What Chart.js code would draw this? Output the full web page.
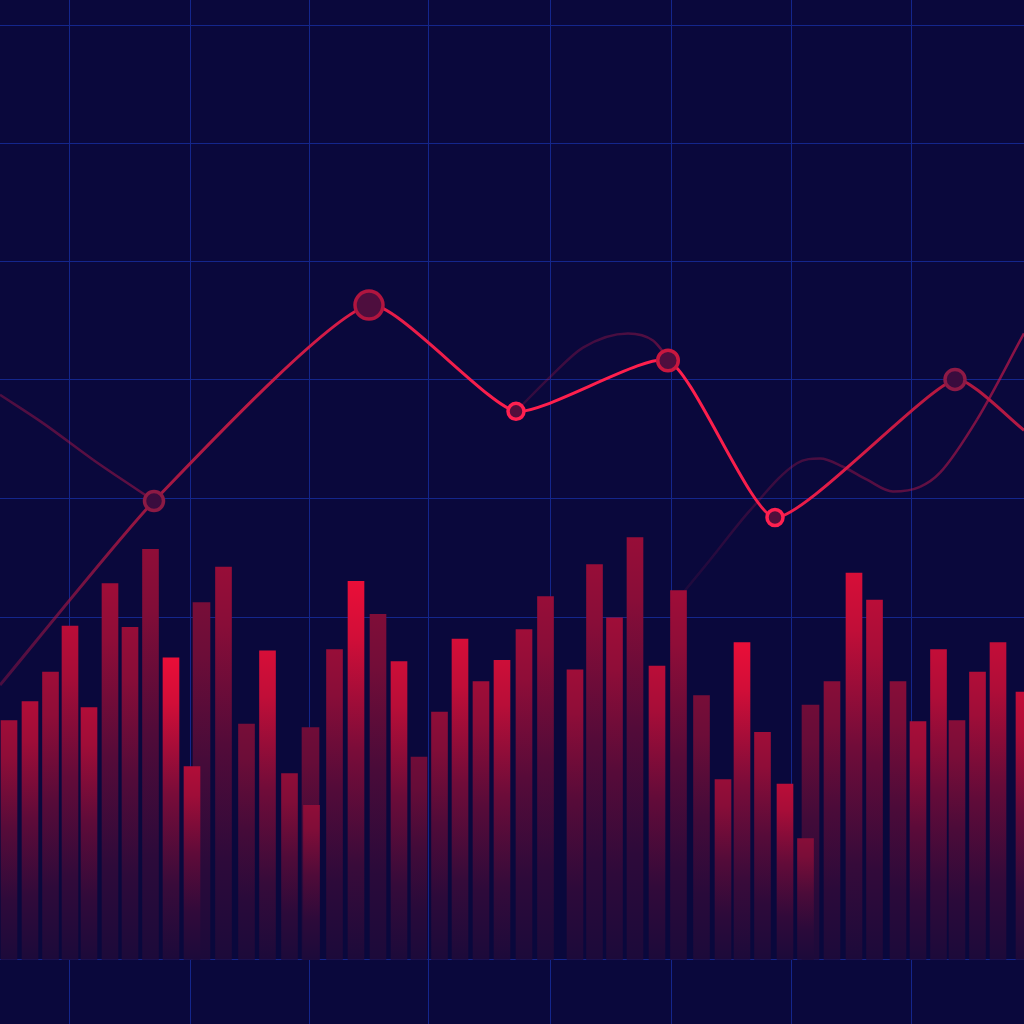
<!DOCTYPE html>
<html>
<head>
<meta charset="utf-8">
<script src="https://cdn.jsdelivr.net/npm/chart.js@4.4.1/dist/chart.umd.min.js"></script>
<style>
  html, body { margin: 0; padding: 0; background: #0a083c; }
  #wrap { width: 1024px; height: 1024px; position: relative; }
</style>
</head>
<body>
<div id="wrap"><canvas id="c" width="1024" height="1024"></canvas></div>
<script>
// ---------- DATA ----------
const barX = [9, 30, 50.5, 70, 89, 110, 130, 150.5, 171, 192, 223.5, 246.5, 267.5, 289.5, 311.5, 334.5, 356, 378, 399, 419, 439.5, 460, 481, 502, 524, 545.5, 575, 594.5, 614.5, 635, 657, 678.5, 701.5, 723, 742, 762.5, 785, 805.5, 832, 854, 874.5, 898, 918, 938.5, 957, 977.5, 998, 1024];
const barValues = [203, 219, 244, 283, 214, 319, 282, 348, 256, 164, 333, 200, 262, 158, 131, 263, 321, 293, 253, 172, 210, 272, 236, 254, 280, 308, 246, 335, 290, 358, 249, 313, 224, 153, 269, 193, 149, 103, 236, 328, 305, 236, 202, 263, 203, 244, 269, 227];
const backBarX = [201.5, 310.5, 810.5];
const backBarValues = [303, 197, 216];
const lineX = [0, 154, 369, 516, 668, 775, 955, 1024];
const lineValues = [233, 389, 555, 465, 508, 375, 492, 449];
const trendX = [0, 43, 93, 140, 154, 335, 516, 550, 583, 628, 653, 668, 674, 680, 710, 750, 797, 820, 843, 867, 893, 920, 940, 977, 1024];
const trendValues = [479, 455, 424, 397, 389, null, 465, 494, 519, 531, 525, 510, null, 308, 339, 381, 421, 425, 418, 407, 397, 401, 413, 458, 531];
const xGridTicks = [69, 190, 309, 428, 550, 671, 791, 911];
const yGridTicks = [0, 290, 391, 492, 592, 692, 792];

// ---------- STYLE ----------
const barTone = [0.6, 0.7, 0.6, 0.75, 0.7, 0.6, 0.55, 0.5, 1.0, 0.7, 0.55, 0.35, 0.9, 0.5, 0.5, 0.55, 1.0, 0.4, 0.85, 0.3, 0.5, 0.9, 0.6, 0.85, 0.6, 0.55, 0.6, 0.55, 0.6, 0.55, 0.75, 0.6, 0.35, 0.55, 1.0, 0.6, 0.75, 0.45, 0.45, 0.9, 0.75, 0.45, 0.65, 0.8, 0.45, 0.7, 0.8, 0.8];
const backBarTone = [0.35, 0.3, 0.3];
const lineColors = ['rgba(150,20,70,0.45)', 'rgba(160,24,66,1)', '#e01c48', '#ff1f4d', '#ff1f4d', '#f51e4b', '#b0183f', '#b41a45'];
const pointRadii = [0, 9.5, 14, 8, 10.3, 8, 10, 0];
const pointBorders = ['rgba(0,0,0,0)', '#8c1a44', '#b0153f', '#ff2050', '#c8173f', '#ff2050', '#8e1a46', 'rgba(0,0,0,0)'];
const pointFills = ['rgba(0,0,0,0)', '#3a0c3e', '#4e0e3e', '#520e3c', '#4e0e3e', '#520e3c', '#3a0c3e', 'rgba(0,0,0,0)'];
const trendAlpha = [0.35, 0.4, 0.42, 0.45, 0.5, 0, 0.2, 0.25, 0.3, 0.35, 0.4, 0.5, 0, 0.1, 0.15, 0.22, 0.3, 0.35, 0.38, 0.4, 0.42, 0.45, 0.5, 0.6, 0.7];
const gridColor = '#14268c';

function mix(a, b, t) { return a.map((v, i) => Math.round(v + (b[i] - v) * t)); }
const DIM = [80, 12, 56], BRIGHT = [234, 14, 56], BASE = [28, 10, 58];

function barFill(tones) {
  return (ctx) => {
    const chart = ctx.chart;
    if (!chart.chartArea || ctx.type !== 'data') return 'rgba(0,0,0,0)';
    const ys = chart.scales.y;
    const top = ys.getPixelForValue(ctx.raw.y);
    const base = ys.getPixelForValue(0);
    const t = Math.pow(tones[ctx.dataIndex], 1.3);
    const topC = mix(DIM, BRIGHT, t);
    const g = chart.ctx.createLinearGradient(0, top, 0, base);
    g.addColorStop(0, `rgb(${topC})`);
    g.addColorStop(0.15, `rgb(${mix(topC, BASE, 0.12)})`);
    g.addColorStop(0.45, `rgb(${mix(topC, BASE, 0.55)})`);
    g.addColorStop(0.75, `rgb(${mix(topC, BASE, 0.86)})`);
    g.addColorStop(1, `rgb(${BASE})`);
    return g;
  };
}

function segGradient(colors) {
  return (ctx) => {
    const g = ctx.chart.ctx.createLinearGradient(ctx.p0.x, 0, ctx.p1.x + 0.01, 0);
    g.addColorStop(0, colors[ctx.p0DataIndex]);
    g.addColorStop(1, colors[ctx.p1DataIndex]);
    return g;
  };
}
const trendColors = trendAlpha.map(a => `rgba(200,25,75,${a})`);

new Chart(document.getElementById('c'), {
  type: 'bar',
  data: {
    datasets: [
      {
        type: 'line',
        data: lineX.map((x, i) => ({ x, y: lineValues[i] })),
        borderWidth: 3,
        tension: 0.18,
        fill: false,
        pointRadius: pointRadii,
        pointBorderWidth: 3.5,
        pointBorderColor: pointBorders,
        pointBackgroundColor: pointFills,
        segment: { borderColor: segGradient(lineColors) },
        borderColor: '#ff1f4d',
        order: 0,
        clip: false
      },
      {
        type: 'bar',
        data: barX.map((x, i) => ({ x, y: barValues[i] })),
        backgroundColor: barFill(barTone),
        barThickness: 16,
        grouped: false,
        borderWidth: 0,
        order: 1
      },
      {
        type: 'bar',
        data: backBarX.map((x, i) => ({ x, y: backBarValues[i] })),
        backgroundColor: barFill(backBarTone),
        barThickness: 17,
        grouped: false,
        borderWidth: 0,
        order: 2
      },
      {
        type: 'line',
        data: trendX.map((x, i) => ({ x, y: trendValues[i] })),
        borderWidth: 2.5,
        cubicInterpolationMode: 'monotone',
        spanGaps: false,
        pointRadius: 0,
        fill: false,
        borderColor: 'rgba(200,25,75,0.35)',
        segment: { borderColor: segGradient(trendColors) },
        order: 3
      }
    ]
  },
  options: {
    responsive: false,
    animation: false,
    devicePixelRatio: 1,
    layout: { padding: 0 },
    plugins: { legend: { display: false }, tooltip: { enabled: false } },
    scales: {
      x: {
        type: 'linear', min: 0, max: 1024, offset: false,
        grid: { color: gridColor, lineWidth: 1, drawTicks: false, offset: false },
        border: { display: false },
        ticks: { display: false },
        afterBuildTicks: (s) => { s.ticks = xGridTicks.map(v => ({ value: v })); }
      },
      y: {
        type: 'linear', min: -54.24, max: 813.56,
        grid: { color: gridColor, lineWidth: 1, drawTicks: false },
        border: { display: false },
        ticks: { display: false },
        afterBuildTicks: (s) => { s.ticks = yGridTicks.map(v => ({ value: v })); }
      }
    }
  }
});
</script>
</body>
</html>
